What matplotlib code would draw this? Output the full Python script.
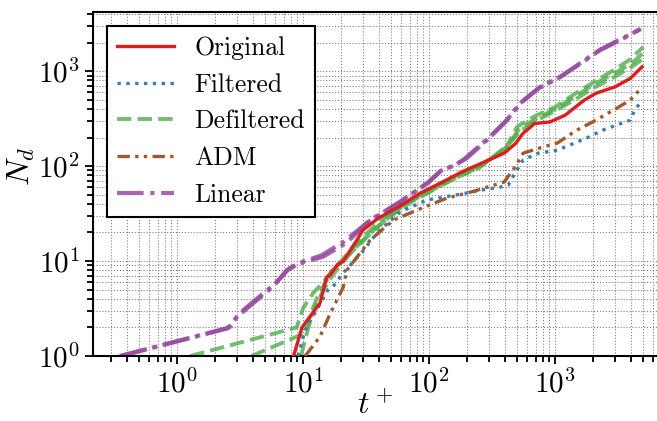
import numpy as np
import matplotlib
matplotlib.use('Agg')
import matplotlib.pyplot as plt

# data
t_orig = [8.4, 9.8, 13.6, 15.4, 16.3, 18.5, 20.8, 26.7, 29.6, 39, 59, 85, 128, 182, 259, 394, 485, 557, 687, 912, 1200, 1700, 2110, 2990, 3940, 4900]
n_orig = [1, 2.0, 3.6, 6.8, 7.1, 9.0, 10, 16.6, 21, 28, 38, 52, 68, 87, 107, 137, 173, 222, 281, 292, 344, 495, 586, 684, 838, 1110]

t_filt = [9.1, 10.4, 12.7, 15.8, 17.3, 20.8, 29.5, 38.5, 59, 96, 128, 183, 259, 365, 423, 480, 557, 735, 1040, 1830, 2400, 3940, 4270, 4900]
n_filt = [1, 1.9, 3.0, 5.0, 5.4, 7.5, 12.5, 19.7, 33, 44, 47, 51, 56, 60, 63, 84, 116, 137, 147, 201, 240, 305, 387, 495]

t_adm = [10.4, 13.6, 16.4, 20.8, 22.2, 34, 52, 80, 138, 222, 394, 480, 557, 790, 1040, 1490, 2110, 3200, 3940, 4900]
n_adm = [1, 1.6, 2.8, 5.3, 8.0, 16.6, 27, 34.4, 46, 54, 68, 98, 137, 158, 175, 240, 305, 420, 495, 680]

t_defilt_a = [1.27, 8.9, 10.0, 12.0, 14.5, 17, 20, 25, 30, 40, 60, 100, 150, 250, 400, 500, 700, 1000, 1500, 2000, 3000, 4000, 5000]
n_defilt_a = [1, 2.0, 3.2, 4.6, 6.0, 8.0, 10, 14, 18, 26, 38, 56, 76, 100, 150, 260, 340, 420, 600, 760, 1050, 1350, 1800]
t_defilt_b = [3.9, 10.4, 11.5, 13, 15, 18, 22, 28, 35, 45, 65, 100, 160, 250, 420, 520, 750, 1000, 1500, 2000, 3000, 4000, 5000]
n_defilt_b = [1, 1.75, 2.8, 4.2, 6.0, 8.5, 11, 15, 20, 27, 40, 54, 74, 98, 160, 250, 330, 400, 560, 720, 960, 1200, 1550]
t_defilt_c = [9.6, 11, 12.5, 14, 16, 19, 23, 29, 36, 48, 70, 100, 150, 250, 430, 520, 700, 1000, 1500, 2000, 3000, 4000, 5000]
n_defilt_c = [1, 2.0, 3.3, 4.5, 6.2, 8.5, 11.5, 16, 21, 29, 41, 53, 72, 96, 170, 230, 300, 380, 520, 660, 880, 1100, 1350]

t_lin_a = [0.35, 2.5, 3.0, 5.8, 7.4, 9.5, 14.4, 22, 34, 59, 96, 122, 165, 186, 303, 414, 527, 760, 1100, 1590, 2260, 3300, 4800]
n_lin_a = [1, 1.95, 2.6, 5.4, 8.0, 9.5, 11.1, 15.5, 27, 42, 66, 88, 105, 116, 203, 305, 460, 684, 870, 1200, 1660, 2130, 2800]
t_lin_b = [0.36, 2.6, 3.1, 6.0, 7.8, 9.8, 14, 21, 33, 57, 100, 125, 160, 200, 290, 400, 540, 740, 1080, 1600, 2300, 3250, 4700]
n_lin_b = [1, 2.0, 2.8, 5.8, 8.4, 9.8, 11.5, 16, 26, 41, 68, 90, 102, 122, 190, 290, 470, 660, 860, 1230, 1700, 2150, 2750]

plt.rcParams['font.family'] = 'serif'
plt.rcParams['font.serif'] = ['cmr10']
plt.rcParams['mathtext.fontset'] = 'cm'
plt.rcParams['axes.formatter.use_mathtext'] = True
plt.rcParams['axes.unicode_minus'] = False

fig = plt.figure(figsize=(6.57, 4.21), dpi=100)
ax = fig.add_axes([0.1416, 0.1544, 0.86, 0.817])

ax.plot(t_orig, n_orig, color='#e41a1c', lw=2.4, label='Original', zorder=5)
ax.plot(t_filt, n_filt, color='#377eb8', lw=2.4, ls=':', label='Filtered', zorder=4)
ax.plot(t_defilt_a, n_defilt_a, color='#4daf4a', lw=2.8, ls='--', alpha=0.8, label='Defiltered')
ax.plot(t_defilt_b, n_defilt_b, color='#4daf4a', lw=2.8, ls='--', alpha=0.8)
ax.plot(t_defilt_c, n_defilt_c, color='#4daf4a', lw=2.8, ls='--', alpha=0.8)
ax.plot(t_adm, n_adm, color='#a65628', lw=2.4, ls=(0, (3.7, 1.6, 1, 1.6, 1, 1.6)), label='ADM', zorder=4)
ax.plot(t_lin_a, n_lin_a, color='#984ea3', lw=3.0, ls='-.', alpha=0.85, label='Linear')
ax.plot(t_lin_b, n_lin_b, color='#984ea3', lw=3.0, ls='-.', alpha=0.85)

ax.set_xscale('log')
ax.set_yscale('log')
ax.set_xlim(0.215, 6560)
ax.set_ylim(1, 4200)

ax.grid(True, which='both', ls=':', color='gray', lw=0.8)
ax.set_axisbelow(True)
for s in ax.spines.values():
    s.set_linewidth(1.5)
ax.tick_params(which='both', direction='out', labelsize=21, width=1.3)
ax.tick_params(which='major', length=6)
ax.tick_params(which='minor', length=4)

ax.set_xlabel('$t^+$', fontsize=23)
ax.xaxis.set_label_coords(0.5, -0.1)
ax.set_ylabel('$N_d$', fontsize=23)
ax.yaxis.set_label_coords(-0.1, 0.55)

leg = ax.legend(loc='upper left', fontsize=18.5, fancybox=False, edgecolor='black',
                framealpha=1, handlelength=2.2, borderaxespad=0.55)
leg.get_frame().set_linewidth(1.5)

fig.savefig('out.png', dpi=100)
